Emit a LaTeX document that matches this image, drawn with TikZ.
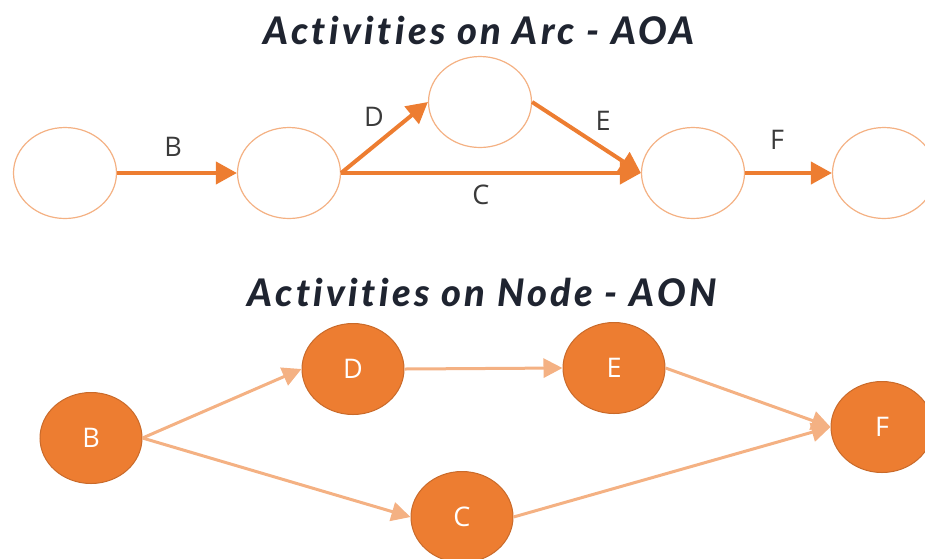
\documentclass[tikz,border=0pt]{standalone}
\usepackage{fontspec}
\setmainfont{Open Sans}
\newfontfamily\titlefont{Lato}[LetterSpace=9, Ligatures={NoCommon}, BoldItalicFont={Lato Black Italic}]
\usetikzlibrary{shapes.geometric,arrows.meta}
\definecolor{orng}{HTML}{ED7D31}
\definecolor{lorng}{HTML}{F4B183}
\definecolor{ttl}{HTML}{1F2430}
\definecolor{lbl}{HTML}{3A3A3A}
\tikzset{
  aoa/.style={ellipse, draw=lorng, line width=1.2pt, fill=white, minimum width=103pt, minimum height=91pt, inner sep=0pt},
  aon/.style={ellipse, draw=orng!85!black, line width=1pt, fill=orng, minimum width=102pt, minimum height=91pt, inner sep=0pt, text=white, font=\fontsize{27}{27}\selectfont},
  aoaarrow/.style={draw=orng, line width=4pt, -{Triangle[length=21pt,width=22pt]}},
  aonarrow/.style={draw=lorng, line width=3pt, -{Triangle[length=19pt,width=19pt]}},
  lab/.style={text=lbl, font=\fontsize{27}{27}\selectfont},
  titletext/.style={text=ttl, font=\titlefont\bfseries\itshape\fontsize{38}{38}\selectfont}
}
\begin{document}
\begin{tikzpicture}[x=1pt,y=-1pt]
\useasboundingbox (0,0) rectangle (925,558);
\begin{scope}
\clip (0,0) rectangle (925,558);
% titles
\node[titletext] (t1) at (479,30) {Activities on Arc - AOA};
\node[titletext] (t2) at (482,292) {Activities on Node - AON};
% AOA
\node[aoa] (e1) at (65,173) {};
\node[aoa] (e2) at (289,173) {};
\node[aoa] (e3) at (480,102) {};
\node[aoa] (e4) at (693,173) {};
\node[aoa] (e5) at (884,173) {};
\draw[aoaarrow] (e1.east) -- (e2.west);
\draw[aoaarrow] (e2.east) -- (e3.west);
\draw[aoaarrow] (e2.east) -- (e4.west);
\draw[aoaarrow] (e3.east) -- (e4.west);
\draw[aoaarrow] (e4.east) -- (e5.west);
\node[lab] (lb) at (173,147) {B};
\node[lab] (ld) at (374,117) {D};
\node[lab] (lc) at (481,195) {C};
\node[lab] (le) at (603,121) {E};
\node[lab] (lf) at (777,140) {F};
% AON
\node[aon] (b) at (91,438) {B};
\node[aon] (d) at (353,369) {D};
\node[aon] (e) at (614,368) {E};
\node[aon] (f) at (882,427) {F};
\node[aon] (c) at (462,517) {C};
\draw[aonarrow] (b.east) -- (d.west);
\draw[aonarrow] (b.east) -- (c.west);
\draw[aonarrow] (d.east) -- (e.west);
\draw[aonarrow] (e.east) -- (f.west);
\draw[aonarrow] (c.east) -- (f.west);
\end{scope}
\end{tikzpicture}
\end{document}
